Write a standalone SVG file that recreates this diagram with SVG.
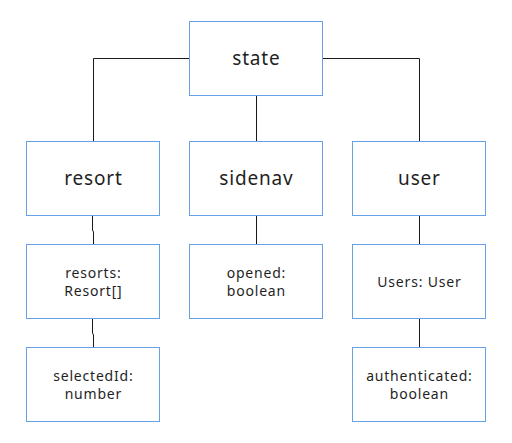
<svg xmlns="http://www.w3.org/2000/svg" width="512" height="443" viewBox="0 0 512 443">
<style>
.box{fill:#ffffff;stroke:#66a0e6;stroke-width:1}
.edge{fill:none;stroke:#1a1a1a;stroke-width:1}
.big{font-family:"Noto Sans","DejaVu Sans",sans-serif;font-size:19px;letter-spacing:0.8px;fill:#1f1f1f;text-anchor:middle}
.small{font-family:"Noto Sans","DejaVu Sans",sans-serif;font-size:14px;letter-spacing:0.8px;fill:#1f1f1f;text-anchor:middle}
</style>
<rect width="512" height="443" fill="#ffffff"/>
<g id="connectors">
<path class="edge" d="M189.5 58.5H93.5V141.5"/>
<path class="edge" d="M322.5 58.5H419.5V141.5"/>
<path class="edge" d="M256.5 95.5V141.5"/>
<path class="edge" d="M92.5 215.5V230L93.5 232V244.5"/>
<path class="edge" d="M92.5 318.5V333L93.5 335V347.5"/>
<path class="edge" d="M256.5 215.5V244.5"/>
<path class="edge" d="M419.5 215.5V244.5"/>
<path class="edge" d="M419.5 318.5V347.5"/>
</g>
<g id="state"><rect class="box" x="189.5" y="21.5" width="133" height="74"/><text class="big" x="256.4" y="65">state</text></g>
<g id="resort"><rect class="box" x="26.5" y="141.5" width="133" height="74"/><text class="big" x="93.4" y="185">resort</text></g>
<g id="sidenav"><rect class="box" x="189.5" y="141.5" width="133" height="74"/><text class="big" x="256.4" y="185">sidenav</text></g>
<g id="user"><rect class="box" x="352.5" y="141.5" width="133" height="74"/><text class="big" x="419.4" y="185">user</text></g>
<g id="resorts"><rect class="box" x="26.5" y="244.5" width="133" height="74"/><text class="small" x="93.4" y="277.5">resorts:</text><text class="small" x="93.4" y="295.5">Resort[]</text></g>
<g id="opened"><rect class="box" x="189.5" y="244.5" width="133" height="74"/><text class="small" x="256.4" y="277.5">opened:</text><text class="small" x="256.4" y="295.5">boolean</text></g>
<g id="users"><rect class="box" x="352.5" y="244.5" width="133" height="74"/><text class="small" x="419.4" y="286.5">Users: User</text></g>
<g id="selectedId"><rect class="box" x="26.5" y="347.5" width="133" height="74"/><text class="small" x="93.4" y="380.5">selectedId:</text><text class="small" x="93.4" y="398.5">number</text></g>
<g id="authenticated"><rect class="box" x="352.5" y="347.5" width="133" height="74"/><text class="small" x="419.4" y="380.5">authenticated:</text><text class="small" x="419.4" y="398.5">boolean</text></g>
</svg>
